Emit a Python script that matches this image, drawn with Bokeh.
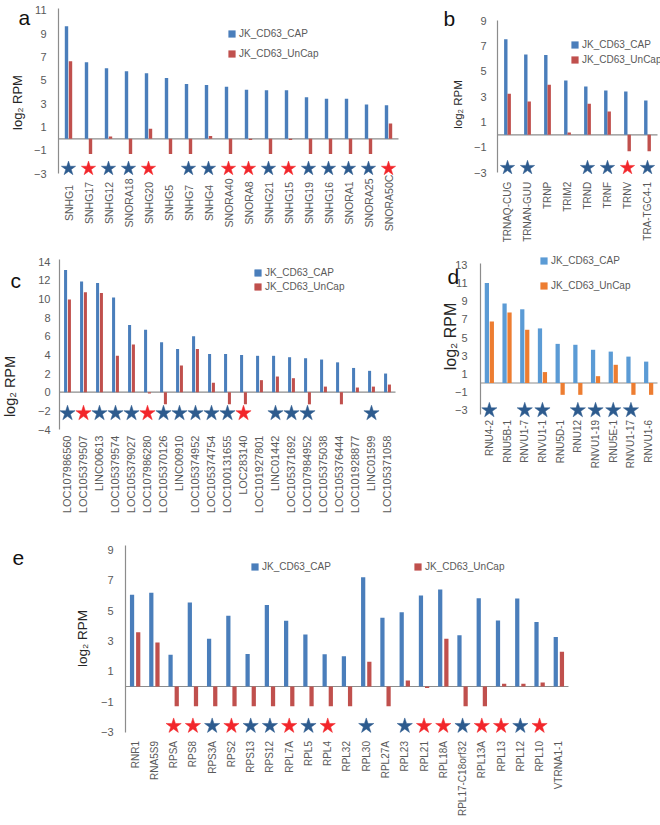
import math
from bokeh.plotting import figure
from bokeh.models import (Range1d, FixedTicker, Label, Legend, LegendItem,
                          ColumnDataSource)
from bokeh.core.properties import value
from bokeh.transform import dodge
from bokeh.layouts import column, row
from bokeh.embed import file_html
from bokeh.resources import INLINE

FONT = "Liberation Sans"

# ---------------- data ----------------
a_genes = ["SNHG1", "SNHG17", "SNHG12", "SNORA18", "SNHG20", "SNHG5", "SNHG7", "SNHG4",
           "SNORA40", "SNORA8", "SNHG21", "SNHG15", "SNHG19", "SNHG16", "SNORA1",
           "SNORA25", "SNORA50C"]
a_cap = [9.65, 6.55, 6.05, 5.78, 5.62, 5.2, 4.7, 4.6, 4.45, 4.2, 4.17, 4.15, 3.57,
         3.43, 3.43, 2.93, 2.87]
a_uncap = [6.65, -1.3, 0.2, -1.3, 0.87, -1.3, -1.3, 0.25, -1.3, -0.1, -1.3, -0.1,
           -1.3, -1.3, -1.3, -1.3, 1.32]
a_star = ["b", "r", "b", "b", "r", "", "b", "b", "r", "r", "b", "r", "b", "b", "b",
          "b", "r"]

b_genes = ["TRNAQ-CUG", "TRNAN-GUU", "TRNP", "TRIM2", "TRND", "TRNF", "TRNV",
           "TRA-TGC4-1"]
b_cap = [7.55, 6.34, 6.29, 4.29, 3.82, 3.5, 3.42, 2.71]
b_uncap = [3.24, 2.63, 3.95, 0.18, 2.45, 1.84, -1.3, -1.3]
b_star = ["b", "b", "", "", "b", "b", "r", "b"]

c_genes = ["LOC107986560", "LOC105379507", "LINC00613", "LOC105379574",
           "LOC105379027", "LOC107986280", "LOC105370126", "LINC00910",
           "LOC105374952", "LOC105374754", "LOC100131655", "LOC283140",
           "LOC101927801", "LINC01442", "LOC105371692", "LOC107984952",
           "LOC105375038", "LOC105376444", "LOC101928877", "LINC01599",
           "LOC105371058"]
c_cap = [13.1, 11.86, 11.7, 10.14, 7.2, 6.7, 5.36, 4.64, 6.0, 4.1, 4.1, 4.0, 3.9,
         3.9, 3.75, 3.64, 3.5, 3.2, 2.6, 2.29, 2.0]
c_uncap = [9.93, 10.7, 10.64, 3.9, 5.1, -0.15, -1.3, 2.86, 4.64, 1.0, -1.3, -1.3,
           1.29, 1.68, 1.5, -1.3, 0.6, -1.3, 0.5, 0.6, 0.82]
c_star = ["b", "r", "b", "b", "b", "r", "b", "b", "b", "b", "b", "r", "", "b", "b",
          "b", "", "", "", "b", ""]

d_genes = ["RNU4-2", "RNU5B-1", "RNVU1-7", "RNVU1-1", "RNU5D-1", "RNU12",
           "RNVU1-19", "RNU5E-1", "RNVU1-17", "RNVU1-6"]
d_cap = [11.0, 8.75, 8.1, 6.0, 4.3, 4.2, 3.65, 3.45, 2.9, 2.35]
d_uncap = [6.75, 7.75, 5.85, 1.2, -1.3, -1.3, 0.75, 2.0, -1.3, -1.3]
d_star = ["b", "", "b", "b", "", "b", "b", "b", "b", ""]

e_genes = ["RNR1", "RNA5S9", "RPSA", "RPS8", "RPS3A", "RPS2", "RPS13", "RPS12",
           "RPL7A", "RPL5", "RPL4", "RPL32", "RPL30", "RPL27A", "RPL23", "RPL21",
           "RPL18A", "RPL17-C18orf32", "RPL13A", "RPL13", "RPL12", "RPL10",
           "VTRNA1-1"]
e_cap = [6.04, 6.18, 2.09, 5.54, 3.14, 4.66, 2.15, 5.38, 4.33, 3.43, 2.13, 2.0, 7.2,
         4.53, 4.9, 6.0, 6.4, 3.38, 5.82, 4.35, 5.8, 4.26, 3.27]
e_uncap = [3.58, 2.9, -1.3, -1.3, -1.3, -1.3, -1.3, -1.3, -1.3, -1.3, -1.3, -1.3,
           1.63, -1.3, 0.4, -0.1, 3.14, -1.3, -1.3, 0.18, 0.18, 0.26, 2.29]
e_star = ["", "", "r", "r", "b", "r", "b", "b", "r", "b", "r", "", "b", "", "b", "r",
          "r", "b", "r", "r", "b", "r", ""]

series_names = ["JK_CD63_CAP", "JK_CD63_UnCap"]

# ---------------- styles ----------------
BLUE = "#4A7EBB"
RED = "#C0504D"
D_BLUE = "#5B9BD5"
D_ORANGE = "#ED7D31"
STAR_COL = {"b": "#2D5B8E", "r": "#F2262B"}
GRAY_TXT = "#595959"
AXIS_COL = "#8C8C8C"
ITEM_H = 12


def panel(genes, cap, uncap, stars, cfg):
    fx, fy, W, H = cfg["fig"]
    L, cw = cfg["L"], cfg["cw"]
    Y0, py = cfg["Y0"], cfg["py"]
    n = len(genes)
    idx = list(range(n))
    xr = Range1d((fx - L) / cw - 0.5, (fx + W - L) / cw - 0.5)
    yr = Range1d((Y0 - (fy + H)) / py, (Y0 - fy) / py)
    p = figure(width=W, height=H, x_range=xr, y_range=yr, output_backend="svg",
               toolbar_location=None, min_border_left=0, min_border_right=0,
               min_border_top=0, min_border_bottom=0)
    p.outline_line_color = None
    p.xgrid.grid_line_color = None
    p.ygrid.grid_line_color = None
    p.background_fill_color = "white"
    p.border_fill_color = "white"

    ya = p.yaxis[0]
    ya.fixed_location = -0.5
    ya.bounds = cfg["bounds"]
    ya.ticker = FixedTicker(ticks=cfg["ticks"])
    ya.major_tick_line_color = None
    ya.minor_tick_line_color = None
    ya.major_tick_out = 0
    ya.major_tick_in = 0
    ya.axis_line_color = AXIS_COL
    ya.axis_line_width = 1.2
    ya.major_label_text_font = FONT
    ya.major_label_text_font_size = cfg.get("tick_size", "11px")
    ya.major_label_text_color = GRAY_TXT
    ya.major_label_standoff = cfg["tick_standoff"]

    xa = p.xaxis[0]
    xa.fixed_location = cfg["xloc"]
    xa.ticker = FixedTicker(ticks=idx)
    xa.axis_line_color = None
    xa.major_tick_line_color = None
    xa.minor_tick_line_color = None
    xa.major_tick_out = 0
    xa.major_tick_in = 0
    if cfg.get("cat_center") is None:
        xa.major_label_overrides = {i: g for i, g in zip(idx, genes)}
        xa.major_label_orientation = math.pi / 2
        xa.major_label_text_font = FONT
        xa.major_label_text_font_size = cfg["cat_size"]
        xa.major_label_text_color = GRAY_TXT
        xa.major_label_standoff = cfg["cat_standoff"]
    else:
        # category names centred on a common line (as in the original panel)
        xa.major_label_text_alpha = 0
        lsrc = ColumnDataSource(dict(i=idx, g=genes,
                                     y=[cfg["cat_center"]] * n))
        p.text(x="i", y="y", text="g", source=lsrc, angle=math.pi / 2,
               text_align="center", text_baseline="middle",
               text_font=value(FONT), text_font_size=cfg["cat_size"],
               text_color=GRAY_TXT)

    # horizontal zero line across the categories
    p.segment(x0=[-0.5], x1=[n - 0.5], y0=[0], y1=[0], line_color=AXIS_COL,
              line_width=1.2)

    src = ColumnDataSource(dict(i=idx, cap=cap, uncap=uncap))
    off, bw = cfg["off"], cfg["bw"]
    c1, c2 = cfg["colors"]
    r1 = p.vbar(x=dodge("i", -off), top="cap", bottom=0, width=bw,
                source=src, fill_color=c1, line_color=None)
    r2 = p.vbar(x=dodge("i", off), top="uncap", bottom=0, width=bw,
                source=src, fill_color=c2, line_color=None)

    si = [i for i, s in zip(idx, stars) if s]
    sc = [STAR_COL[s] for s in stars if s]
    ssrc = ColumnDataSource(dict(i=si, y=[cfg["star_y"]] * len(si), c=sc))
    p.scatter(x="i", y="y", source=ssrc, marker="star", size=cfg["star_size"],
              fill_color="c", line_color="c", line_width=0.5)

    for rend, name, (gx, gy) in zip([r1, r2], series_names, cfg["legend"]):
        leg = Legend(items=[LegendItem(label=name, renderers=[rend])],
                     location=(gx - fx, (fy + H) - (gy + ITEM_H)),
                     padding=0, margin=0, spacing=0,
                     border_line_alpha=0, background_fill_alpha=0,
                     glyph_width=9, glyph_height=9, label_height=9,
                     label_standoff=3, label_text_font=FONT,
                     label_text_font_size="10px", label_text_color=GRAY_TXT)
        p.add_layout(leg)

    lx, ly = cfg["letter"]
    p.add_layout(Label(x=lx - fx, y=(fy + H) - ly, x_units="screen",
                       y_units="screen", text=cfg["name"], text_font=FONT,
                       text_font_size="21px", text_align="left",
                       text_baseline="alphabetic", text_color="#111111"))
    cx, cy, fs = cfg["ylab"]
    p.add_layout(Label(x=cx - fx, y=(fy + H) - cy, x_units="screen",
                       y_units="screen", angle=math.pi / 2, text="log\u2082 RPM",
                       text_font=FONT, text_font_size=fs, text_align="center",
                       text_baseline="middle", text_color="#262626"))
    return p


cfg_a = dict(name="a", fig=(0, 0, 440, 250), L=58, cw=20, Y0=138.3, py=11.67,
             bounds=(-3, 11.2), ticks=[-3, -1, 1, 3, 5, 7, 9, 11], xloc=-3,
             off=0.1, bw=0.17, colors=(BLUE, RED), star_y=-2.55, star_size=15,
             tick_standoff=12, cat_size="10.5px", cat_standoff=3, cat_center=-5.5,
             legend=[(227, 26.8), (227, 46.8)], letter=(18, 17.3),
             ylab=(17, 102, "13px"))
cfg_b = dict(name="b", fig=(440, 0, 220, 250), L=497, cw=20, Y0=134.3, py=12.67,
             bounds=(-3, 9), ticks=[-3, -1, 1, 3, 5, 7, 9], xloc=-3,
             off=0.085, bw=0.17, colors=(BLUE, RED), star_y=-2.6, star_size=15,
             tick_standoff=11, cat_size="10px", cat_standoff=9,
             legend=[(570, 37.7), (570, 53.3)], letter=(443, 18.3),
             ylab=(457, 104, "11.5px"))
cfg_c = dict(name="c", fig=(0, 250, 440, 285), L=59, cw=16, Y0=391.7, py=9.33,
             bounds=(-4, 14.2), ticks=[-4, -2, 0, 2, 4, 6, 8, 10, 12, 14], xloc=-4,
             off=0.12, bw=0.19, colors=(BLUE, RED), star_y=-2.25, star_size=16,
             tick_standoff=9, cat_size="11px", cat_standoff=6,
             legend=[(253, 266), (253, 280.2)], letter=(10, 280),
             ylab=(9, 386, "14.5px"))
cfg_d = dict(name="d", fig=(440, 250, 220, 285), L=480, cw=17.7, Y0=382.5, py=9.1,
             bounds=(-3.5, 13.1), ticks=[-3, -1, 1, 3, 5, 7, 9, 11, 13], xloc=-3.5,
             off=0.14, bw=0.24, colors=(D_BLUE, D_ORANGE), star_y=-3.0,
             star_size=16, tick_standoff=13, cat_size="10px", cat_standoff=5,
             legend=[(539, 253.5), (539, 278.5)], letter=(447, 276),
             ylab=(450, 336, "16px"))
cfg_e = dict(name="e", fig=(0, 535, 660, 290), L=125, cw=19.26, Y0=686, py=15.17,
             bounds=(-3, 9.3), ticks=[-3, -1, 1, 3, 5, 7, 9], xloc=-3,
             off=0.16, bw=0.22, colors=(BLUE, RED), star_y=-2.6, star_size=16,
             tick_standoff=12, cat_size="10px", cat_standoff=9,
             legend=[(250, 560), (413, 560)], letter=(12, 557),
             ylab=(82, 638, "13.5px"))

pa = panel(a_genes, a_cap, a_uncap, a_star, cfg_a)
pb = panel(b_genes, b_cap, b_uncap, b_star, cfg_b)
pc = panel(c_genes, c_cap, c_uncap, c_star, cfg_c)
pd = panel(d_genes, d_cap, d_uncap, d_star, cfg_d)
pe = panel(e_genes, e_cap, e_uncap, e_star, cfg_e)

layout = column(row(pa, pb), row(pc, pd), pe)

with open("out.html", "w") as f:
    f.write(file_html(layout, INLINE))
